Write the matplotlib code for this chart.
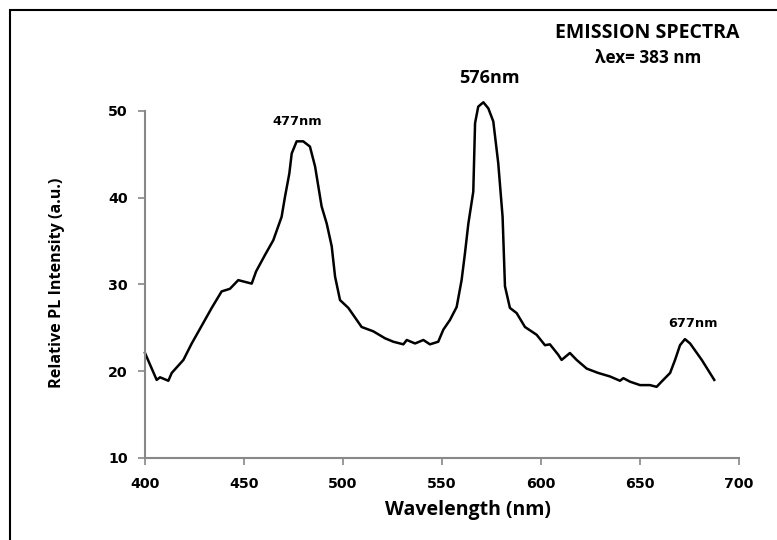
import matplotlib
matplotlib.use('Agg')
import matplotlib.pyplot as plt
from matplotlib.patches import Rectangle

wavelength = [400.0, 405.9, 407.6, 411.8, 413.5, 419.4, 423.6, 427.8, 433.7, 438.7,
              442.9, 447.1, 453.9, 456.1, 460.6, 464.8, 469.0, 470.7, 472.9, 474.1,
              476.6, 479.9, 483.3, 485.9, 489.2, 491.8, 494.3, 496.0, 498.5, 502.7,
              509.4, 515.3, 521.2, 525.4, 530.5, 532.2, 536.4, 540.6, 543.9, 548.1,
              550.7, 554.0, 557.4, 559.9, 561.6, 563.3, 565.8, 566.7, 568.3, 570.9,
              573.4, 575.9, 578.4, 580.6, 581.8, 584.3, 587.7, 591.9, 597.8, 602.0,
              604.5, 608.7, 610.4, 614.6, 618.0, 623.1, 628.9, 634.8, 639.9, 641.6,
              644.9, 650.0, 655.0, 658.4, 660.9, 665.2, 667.7, 670.2, 672.7, 675.3,
              681.2, 687.5]
intensity = [22.1, 19.0, 19.3, 18.9, 19.8, 21.3, 23.2, 24.9, 27.3, 29.2,
             29.5, 30.5, 30.1, 31.5, 33.4, 35.1, 37.8, 40.1, 42.8, 45.1,
             46.5, 46.5, 45.9, 43.6, 39.0, 37.0, 34.4, 30.9, 28.2, 27.3,
             25.1, 24.6, 23.8, 23.4, 23.1, 23.6, 23.2, 23.6, 23.1, 23.4,
             24.8, 25.9, 27.4, 30.5, 33.6, 37.0, 40.7, 48.6, 50.5, 51.0,
             50.3, 48.8, 44.0, 37.8, 29.8, 27.3, 26.7, 25.1, 24.2, 23.0,
             23.1, 21.9, 21.3, 22.1, 21.3, 20.3, 19.8, 19.4, 18.9, 19.2,
             18.8, 18.4, 18.4, 18.2, 18.8, 19.8, 21.3, 23.0, 23.7, 23.2,
             21.3, 19.0]

x_ticks = [400, 450, 500, 550, 600, 650, 700]
y_ticks = [10, 20, 30, 40, 50]

# Etiquetas de los picos
peak_labels = ['477nm', '576nm', '677nm']
peak_x = [477, 574, 677]
peak_y = [48.8, 53.8, 25.5]

plt.rcParams['font.family'] = ['Open Sans', 'DejaVu Sans']

fig = plt.figure(figsize=(7.77, 5.4), dpi=100)
ax = fig.add_axes([0.1866, 0.1519, 0.7645, 0.6426])

ax.plot(wavelength, intensity, color='black', lw=1.8, clip_on=False)

ax.set_xlim(400, 700)
ax.set_ylim(10, 50)
ax.set_xticks(x_ticks)
ax.set_yticks(y_ticks)
ax.tick_params(direction='out', length=5, width=1.2, color='#888888')
ax.tick_params(axis='x', pad=8.5)
ax.tick_params(axis='y', pad=7.5)
for lbl in ax.get_xticklabels() + ax.get_yticklabels():
    lbl.set_fontweight('bold')
    lbl.set_family('DejaVu Sans')
    lbl.set_fontsize(10.2)

for side in ['top', 'right']:
    ax.spines[side].set_visible(False)
for side in ['left', 'bottom']:
    ax.spines[side].set_color('#888888')
    ax.spines[side].set_linewidth(1.5)

# Títulos de ejes
fig.text(468 / 777, 1 - 510 / 540, 'Wavelength (nm)', ha='center', va='center',
         fontsize=14, fontweight='bold')
fig.text(57 / 777, 1 - 283 / 540, 'Relative PL Intensity (a.u.)', ha='center',
         va='center', rotation=90, fontsize=11.6, fontweight='bold')

fams = ['DejaVu Sans', 'Open Sans', 'DejaVu Sans']
sizes = [9.3, 13, 9.3]
for lbl, px, py, fs, fam in zip(peak_labels, peak_x, peak_y, sizes, fams):
    ax.text(px, py, lbl, ha='center', va='center', fontsize=fs,
            fontweight='bold', family=fam, clip_on=False)

fig.text(647 / 777, 1 - 33 / 540, 'EMISSION SPECTRA', ha='center', va='center',
         fontsize=14, fontweight='bold')
fig.text(648 / 777, 1 - 58 / 540, 'λex= 383 nm', ha='center', va='center',
         fontsize=12.3, fontweight='bold')

# Marco negro de la figura
fig.add_artist(Rectangle((0.0129, -0.1), 1.2, 0.9815 + 0.1,
                         transform=fig.transFigure, fill=False,
                         lw=1.5, edgecolor='black', clip_on=False))

fig.savefig('out.png', dpi=100)
